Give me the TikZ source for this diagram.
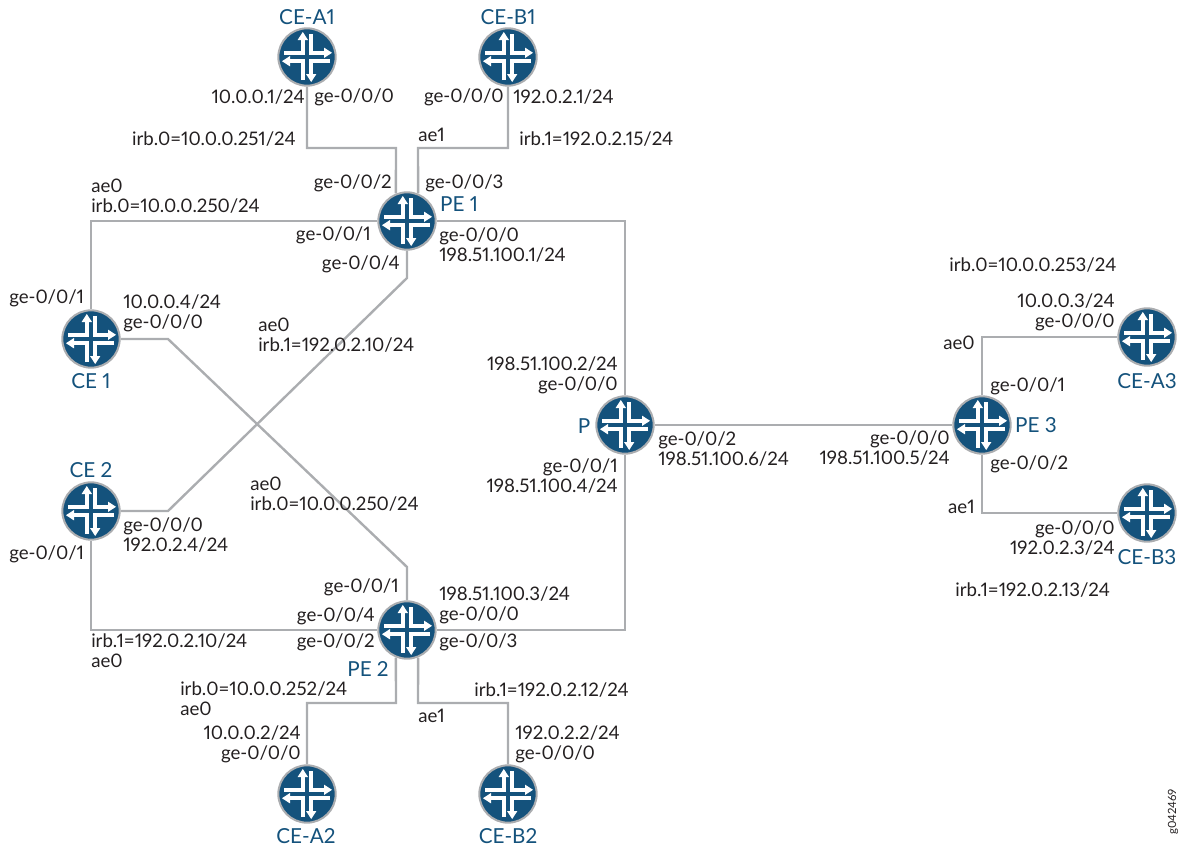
\documentclass[tikz,border=0pt]{standalone}
\usepackage{fontspec}
\setmainfont[Numbers=Proportional]{Lato}
\usetikzlibrary{positioning}
\definecolor{routerblue}{HTML}{14527C}
\definecolor{linegray}{HTML}{ABADB0}
\definecolor{textdark}{HTML}{231F20}
\tikzset{
    router/.style={circle, draw=linegray, line width=1.5pt, fill=routerblue, minimum size=43pt, inner sep=0pt,
        path picture={
            \begin{scope}[shift={(path picture bounding box.center)}, x=0.75pt, y=-0.75pt, white, line width=3pt]
                \draw (4.2,-23) -- (4.2,-4.2) -- (17.5,-4.2);
                \fill (17,-9.4) -- (25,-4.2) -- (17,1) -- cycle;
                \draw (23,4.2) -- (4.2,4.2) -- (4.2,17.5);
                \fill (-1,17) -- (4.2,25) -- (9.4,17) -- cycle;
                \draw (-4.2,23) -- (-4.2,4.2) -- (-17.5,4.2);
                \fill (-17,-1) -- (-25,4.2) -- (-17,9.4) -- cycle;
                \draw (-23,-4.2) -- (-4.2,-4.2) -- (-4.2,-17.5);
                \fill (-9.4,-17) -- (-4.2,-25) -- (1,-17) -- cycle;
            \end{scope}
        }},
    rname/.style={text=routerblue, font=\fontsize{15.5}{16}\selectfont, inner sep=0pt},
    lbl/.style={text=textdark, font=\fontsize{14}{15}\selectfont, inner sep=0pt, anchor=west, align=left},
    lblr/.style={lbl, anchor=east, align=right},
    link/.style={draw=linegray, line width=1.8pt}
}
\begin{document}
\begin{tikzpicture}[x=0.75pt, y=-0.75pt]
    \useasboundingbox (0,0) rectangle (1182,846);

    % Place routers
    \node[router] (ce_a1) at (307,57)   {};
    \node[router] (ce_b1) at (508,57)   {};
    \node[router] (pe_1)  at (407,221)  {};
    \node[router] (ce_1)  at (91,339)   {};
    \node[router] (ce_2)  at (91,511)   {};
    \node[router] (p)     at (625,425)  {};
    \node[router] (pe_2)  at (407,630)  {};
    \node[router] (ce_a2) at (307,794)  {};
    \node[router] (ce_b2) at (508,794)  {};
    \node[router] (pe_3)  at (982,425)  {};
    \node[router] (ce_a3) at (1147,337) {};
    \node[router] (ce_b3) at (1147,513) {};

    % Router names
    \node[rname] (n_ce_a1) at (307,17)  {CE-A1};
    \node[rname] (n_ce_b1) at (508,17)  {CE-B1};
    \node[rname] (n_pe_1)  at (459,204) {PE 1};
    \node[rname] (n_ce_1)  at (91,381)  {CE 1};
    \node[rname] (n_ce_2)  at (91,470)  {CE 2};
    \node[rname] (n_p)     at (584,426) {P};
    \node[rname] (n_pe_2)  at (368,669) {PE 2};
    \node[rname] (n_ce_a2) at (306,836) {CE-A2};
    \node[rname] (n_ce_b2) at (508,836) {CE-B2};
    \node[rname] (n_pe_3)  at (1036,425) {PE 3};
    \node[rname] (n_ce_a3) at (1147,381) {CE-A3};
    \node[rname] (n_ce_b3) at (1147,557) {CE-B3};

    % Free corners of the links
    \coordinate (c_a1)       at (396,148);
    \coordinate (c_b1)       at (418,148);
    \coordinate (c_pe1_low)  at (407,278);
    \coordinate (c_ce2_side) at (168,511);
    \coordinate (c_ce1_side) at (168,339);
    \coordinate (c_pe2_up)   at (407,567);
    \coordinate (c_a2)       at (396,703);
    \coordinate (c_b2)       at (418,703);

    % Draw links
    \path[link] (ce_a1.south) |- (c_a1) -- (pe_1.112);
    \path[link] (ce_b1.south) |- (c_b1) -- (pe_1.68);
    \path[link] (pe_1.west) -| (ce_1.north);
    \path[link] (pe_1.east) -| (p.north);
    \path[link] (pe_1.south) -- (c_pe1_low) -- (c_ce2_side) -- (ce_2.east);
    \path[link] (ce_1.east) -- (c_ce1_side) -- (c_pe2_up) -- (pe_2.north);
    \path[link] (ce_2.south) |- (pe_2.west);
    \path[link] (p.south) |- (pe_2.east);
    \path[link] (pe_2.248) -- (c_a2) -| (ce_a2.north);
    \path[link] (pe_2.292) -- (c_b2) -| (ce_b2.north);
    \path[link] (p.east) -- (pe_3.west);
    \path[link] (pe_3.north) |- (ce_a3.west);
    \path[link] (pe_3.south) |- (ce_b3.west);

    % Labels around PE 1
    \node[lblr] (l_a1_ip)   at (305,97)  {10.0.0.1/24};
    \node[lbl]  (l_a1_ge)   at (314,97)  {ge-0/0/0};
    \node[lblr] (l_b1_ge)   at (504,97)  {ge-0/0/0};
    \node[lbl]  (l_b1_ip)   at (513,97)  {192.0.2.1/24};
    \node[lblr] (l_irb0_a)  at (296,139) {irb.0=10.0.0.251/24};
    \node[lbl]  (l_ae1_a)   at (418,135) {ae1};
    \node[lbl]  (l_irb1_a)  at (519,139) {irb.1=192.0.2.15/24};
    \node[lblr] (l_p1_g2)   at (392,183) {ge-0/0/2};
    \node[lbl]  (l_p1_g3)   at (425,183) {ge-0/0/3};
    \node[lbl]  (l_ce1_ae)  at (91,196)  {ae0\\irb.0=10.0.0.250/24};
    \node[lblr] (l_p1_g1)   at (371,235) {ge-0/0/1};
    \node[lbl]  (l_p1_g0)   at (439,245) {ge-0/0/0\\198.51.100.1/24};
    \node[lblr] (l_p1_g4)   at (400,264) {ge-0/0/4};

    % Labels around CE 1 and CE 2
    \node[lbl]  (l_ce1_g1)  at (9,298)   {ge-0/0/1};
    \node[lbl]  (l_ce1_g0)  at (123,313) {10.0.0.4/24\\ge-0/0/0};
    \node[lbl]  (l_ae_irb1) at (258,335) {ae0\\irb.1=192.0.2.10/24};
    \node[lbl]  (l_ae_irb0) at (250,494) {ae0\\irb.0=10.0.0.250/24};
    \node[lbl]  (l_ce2_g0)  at (123,535) {ge-0/0/0\\192.0.2.4/24};
    \node[lbl]  (l_ce2_g1)  at (9,554)   {ge-0/0/1};

    % Labels around P
    \node[lblr] (l_p_g0)    at (618,375) {198.51.100.2/24\\ge-0/0/0};
    \node[lbl]  (l_p_g2)    at (658,449) {ge-0/0/2\\198.51.100.6/24};
    \node[lblr] (l_p_g1)    at (618,476) {ge-0/0/1\\198.51.100.4/24};

    % Labels around PE 2
    \node[lblr] (l_p2_g1)   at (399,587) {ge-0/0/1};
    \node[lbl]  (l_p2_g0)   at (439,605) {198.51.100.3/24\\ge-0/0/0};
    \node[lblr] (l_p2_g4)   at (375,616) {ge-0/0/4};
    \node[lblr] (l_p2_g2)   at (375,642) {ge-0/0/2};
    \node[lbl]  (l_p2_g3)   at (439,642) {ge-0/0/3};
    \node[lbl]  (l_p2_irb1) at (91,651)  {irb.1=192.0.2.10/24\\ae0};
    \node[lbl]  (l_a2_irb)  at (180,699) {irb.0=10.0.0.252/24\\ae0};
    \node[lbl]  (l_b2_irb)  at (474,690) {irb.1=192.0.2.12/24};
    \node[lbl]  (l_b2_ae)   at (418,716) {ae1};
    \node[lblr] (l_a2_ip)   at (301,744) {10.0.0.2/24\\ge-0/0/0};
    \node[lbl]  (l_b2_ip)   at (515,744) {192.0.2.2/24\\ge-0/0/0};

    % Labels around PE 3
    \node[lbl]  (l_p3_irb0) at (949,265) {irb.0=10.0.0.253/24};
    \node[lblr] (l_a3_ip)   at (1115,312) {10.0.0.3/24\\ge-0/0/0};
    \node[lblr] (l_p3_ae0)  at (975,343) {ae0};
    \node[lbl]  (l_p3_g1)   at (990,386) {ge-0/0/1};
    \node[lblr] (l_p3_g0)   at (950,448) {ge-0/0/0\\198.51.100.5/24};
    \node[lbl]  (l_p3_g2)   at (990,464) {ge-0/0/2};
    \node[lblr] (l_p3_ae1)  at (975,507) {ae1};
    \node[lblr] (l_b3_ip)   at (1115,538) {ge-0/0/0\\192.0.2.3/24};
    \node[lbl]  (l_p3_irb1) at (955,590) {irb.1=192.0.2.13/24};

    % Figure number
    \node[text=textdark, font=\fontsize{8.5}{9}\selectfont, rotate=90, inner sep=0pt] (fig_no) at (1173,812) {g042469};
\end{tikzpicture}
\end{document}
